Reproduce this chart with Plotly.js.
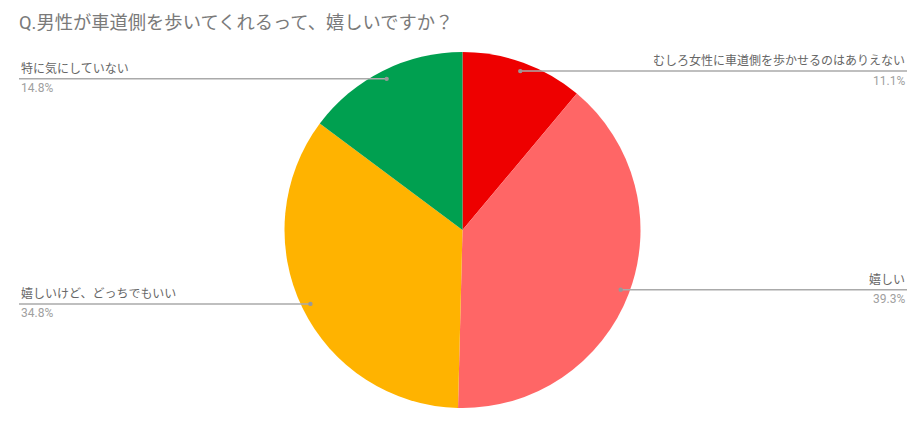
<!DOCTYPE html>
<html>
<head>
<meta charset="utf-8">
<script src="https://cdn.plot.ly/plotly-3.0.1.min.js"></script>
<style>
  body { margin: 0; background: #fff; }
  #myDiv { width: 923px; height: 424px; }
</style>
</head>
<body>
<div id="myDiv"></div>
<script>
var labels = ['むしろ女性に車道側を歩かせるのはありえない', '嬉しい', '嬉しいけど、どっちでもいい', '特に気にしていない'];
var values = [11.1, 39.3, 34.8, 14.8];
var colors = ['#ee0000', '#ff6666', '#ffb300', '#00a050'];

var W = 923, H = 424;
var cx = 462.5, cy = 230, R = 178;
var leftEdge = 19, rightEdge = 907;
var font = 'Roboto, "Noto Sans CJK JP", sans-serif';

var total = 0;
for (let i = 0; i < values.length; i++) total += values[i];

var shapes = [];
var annotations = [];
var cum = 0;
for (let i = 0; i < values.length; i++) {
  let mid = (cum + values[i] / 2) / total;
  cum += values[i];
  let th = 2 * Math.PI * mid;
  let px = cx + Math.sin(th) * R * 0.95;
  let py = cy - Math.cos(th) * R * 0.95;
  let right = Math.sin(th) > 0;
  let edge = right ? rightEdge : leftEdge;
  let yp = 1 - py / H;
  shapes.push({
    type: 'line', xref: 'paper', yref: 'paper',
    x0: px / W, x1: edge / W, y0: yp, y1: yp,
    line: {color: '#aaaaaa', width: 1.5}
  });
  shapes.push({
    type: 'circle', xref: 'paper', yref: 'paper',
    x0: (px - 2.2) / W, x1: (px + 2.2) / W, y0: yp - 2.2 / H, y1: yp + 2.2 / H,
    fillcolor: '#999999', line: {width: 0}
  });
  annotations.push({
    xref: 'paper', yref: 'paper', x: edge / W, y: yp + 1 / H,
    xanchor: right ? 'right' : 'left', yanchor: 'bottom',
    text: labels[i], showarrow: false,
    font: {family: font, size: 12, color: '#666666'}
  });
  annotations.push({
    xref: 'paper', yref: 'paper', x: edge / W, y: yp - 0.5 / H,
    xanchor: right ? 'right' : 'left', yanchor: 'top',
    text: (values[i] / total * 100).toFixed(1) + '%', showarrow: false,
    font: {family: font, size: 12, color: '#a0a0a0'}
  });
}

var data = [{
  type: 'pie',
  labels: labels,
  values: values,
  sort: false,
  direction: 'clockwise',
  rotation: 0,
  textinfo: 'none',
  hoverinfo: 'label+percent',
  marker: {colors: colors, line: {width: 0}},
  domain: {x: [(cx - R) / W, (cx + R) / W], y: [(H - cy - R) / H, (H - cy + R) / H]}
}];

var layout = {
  width: W,
  height: H,
  margin: {l: 0, r: 0, t: 0, b: 0},
  showlegend: false,
  paper_bgcolor: '#ffffff',
  title: {
    text: 'Q.男性が車道側を歩いてくれるって、嬉しいですか？',
    x: leftEdge / W, xanchor: 'left', xref: 'paper',
    y: 1 - 23 / H, yanchor: 'middle', yref: 'paper',
    font: {family: font, size: 18.3, color: '#7a7a7a'}
  },
  shapes: shapes,
  annotations: annotations
};

Plotly.newPlot('myDiv', data, layout, {displayModeBar: false, staticPlot: true});
</script>
</body>
</html>
